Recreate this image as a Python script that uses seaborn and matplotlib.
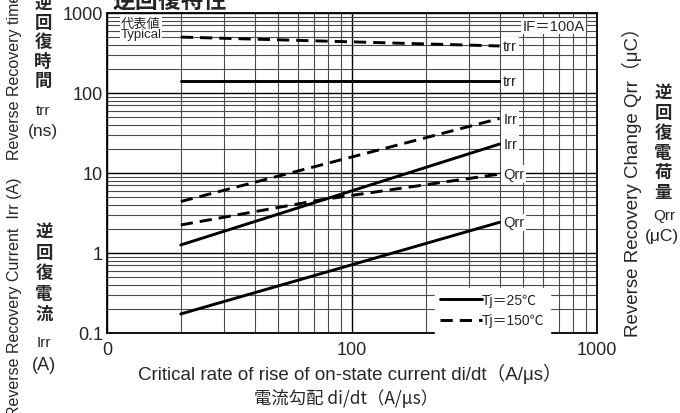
import numpy as np
import pandas as pd
import matplotlib
matplotlib.use('Agg')
import matplotlib.pyplot as plt
from matplotlib.lines import Line2D
from matplotlib.ticker import FixedLocator, FixedFormatter, LogLocator, NullFormatter
import seaborn as sns

# values (di/dt in A/us)
di_two = [20, 400]
di_three = [20, 74, 400]
trr_25 = [141, 141]        # ns
trr_150 = [500, 387]       # ns
irr_25 = [1.26, 23.0]      # A
irr_150 = [4.4, 48.0]      # A
qrr_25 = [0.173, 2.42]     # uC
qrr_150 = [2.24, 4.6, 9.7] # uC

x_ticks = [10, 100, 1000]
x_labels = ['0', '100', '1000']
y_ticks = [0.1, 1, 10, 100, 1000]
y_labels = ['0.1', '1', '10', '100', '1000']

curves = [
    ('trr', '25', di_two, trr_25),
    ('trr', '150', di_two, trr_150),
    ('Irr', '25', di_two, irr_25),
    ('Irr', '150', di_two, irr_150),
    ('Qrr', '25', di_two, qrr_25),
    ('Qrr', '150', di_three, qrr_150),
]

sns.set_style('white')
plt.rcParams['font.family'] = ['Liberation Sans', 'Noto Sans CJK JP', 'DejaVu Sans']
JP = ['Noto Sans CJK JP', 'DejaVu Sans']
NARROW = ['Liberation Sans Narrow', 'Liberation Sans', 'Noto Sans CJK JP']
DASH = (0, (4.2, 2.4))

fig = plt.figure(figsize=(6.8, 4.14), dpi=100)
ax = fig.add_axes([107 / 680, 1 - 334 / 414, 490 / 680, 320 / 414])

for name, tj, xs, ys in curves:
    df = pd.DataFrame({'di': xs, 'v': ys})
    ls = '-' if tj == '25' else DASH
    sns.lineplot(data=df, x='di', y='v', ax=ax, color='black', lw=2.1,
                 linestyle=ls, zorder=4)
    ax.text(xs[-1] * 1.035, ys[-1], name, fontsize=10.5, ha='left', va='center',
            family=NARROW, zorder=5,
            bbox=dict(facecolor='white', edgecolor='none', pad=1.3))

ax.set_xscale('log')
ax.set_yscale('log')
ax.set_xlim(10, 1000)
ax.set_ylim(0.1, 1000)
ax.xaxis.set_major_locator(FixedLocator(x_ticks))
ax.xaxis.set_major_formatter(FixedFormatter(x_labels))
ax.yaxis.set_major_locator(FixedLocator(y_ticks))
ax.yaxis.set_major_formatter(FixedFormatter(y_labels))
ax.xaxis.set_minor_locator(LogLocator(base=10, subs=np.arange(2, 10)))
ax.yaxis.set_minor_locator(LogLocator(base=10, subs=np.arange(2, 10)))
ax.xaxis.set_minor_formatter(NullFormatter())
ax.yaxis.set_minor_formatter(NullFormatter())
ax.grid(which='major', color='black', lw=1.0, zorder=1)
ax.grid(which='minor', color='#4a4a4a', lw=0.8, zorder=1)
ax.set_axisbelow(True)
ax.tick_params(which='both', length=0, labelsize=13, pad=3)
ax.tick_params(axis='x', pad=6)
for lab in ax.get_xticklabels() + ax.get_yticklabels():
    lab.set_family(NARROW)
ax.set_xlabel('')
ax.set_ylabel('')
for s in ax.spines.values():
    s.set_color('black')
    s.set_linewidth(1.3)

# "typical" tag, top left
ax.text((141 - 107) / 490, 1 - 15.5 / 320, '代表値\nTypical', transform=ax.transAxes,
        fontsize=9.5, ha='center', va='center', linespacing=0.8, zorder=5,
        bbox=dict(facecolor='white', edgecolor='none', pad=0.6))
ax.text(0.975, 1 - 13 / 320, 'IF＝100A', transform=ax.transAxes, fontsize=10.5,
        ha='right', va='center', zorder=5,
        bbox=dict(facecolor='white', edgecolor='none', pad=1.0))

handles = [Line2D([], [], color='black', lw=2.1, linestyle='-'),
           Line2D([], [], color='black', lw=2.1, linestyle=DASH)]
leg = ax.legend(handles, ['Tj＝25℃', 'Tj＝150℃'], loc='lower right',
                bbox_to_anchor=(0.904, 0.0), fontsize=10, handlelength=3.0,
                handletextpad=0.0, frameon=True, framealpha=1.0,
                borderpad=0.4, labelspacing=0.45, fancybox=False,
                borderaxespad=0.0)
leg.get_frame().set_edgecolor('white')
leg.set_zorder(6)

# title (clipped at top in the reference)
fig.text(170 / 680, 1 - 8 / 414, '逆回復特性', fontsize=16.5, ha='center',
         va='baseline', family=JP, weight='bold')

# x axis labels
fig.text(350 / 680, 1 - 374 / 414, 'Critical rate of rise of on-state current di/dt（A/μs）',
         fontsize=13.5, ha='center', va='center', family=['Liberation Sans', 'Noto Sans CJK JP'])
fig.text(346 / 680, 1 - 399 / 414, '電流勾配 di/dt（A/μs）', fontsize=12.5,
         ha='center', va='center', family=JP)


def stack(x, y_first, step, chars, size=12.5):
    for i, ch in enumerate(chars):
        fig.text(x / 680, 1 - (y_first + i * step) / 414, ch, fontsize=size,
                 ha='center', va='center', family=JP, weight='bold')


# left side labels
fig.text(15 / 680, 1 - 160 / 414, 'Reverse Recovery time  trr (ns)', rotation=90,
         fontsize=11.5, ha='center', va='bottom', family=NARROW)
fig.text(15 / 680, 1 - 417 / 414, 'Reverse Recovery Current  Irr (A)', rotation=90,
         fontsize=11.5, ha='center', va='bottom', family=NARROW)
stack(43, 4, 19.2, '逆回復時間')
fig.text(43 / 680, 1 - 111 / 414, 'trr', fontsize=11, ha='center', va='center', family=NARROW)
fig.text(43 / 680, 1 - 132 / 414, '(ns)', fontsize=12.5, ha='center', va='center', family=NARROW)
stack(44, 232, 20.7, '逆回復電流')
fig.text(44 / 680, 1 - 343 / 414, 'Irr', fontsize=11, ha='center', va='center', family=NARROW)
fig.text(44 / 680, 1 - 366 / 414, '(A)', fontsize=13, ha='center', va='center')

# right side labels
fig.text(632 / 680, 1 - 178 / 414, 'Reverse Recovery Change Qrr（μC）', rotation=90,
         fontsize=13.5, ha='center', va='center', family=['Liberation Sans', 'Noto Sans CJK JP'])
stack(663, 93, 20, '逆回復電荷量')
fig.text(664 / 680, 1 - 216 / 414, 'Qrr', fontsize=11, ha='center', va='center', family=NARROW)
fig.text(662 / 680, 1 - 237 / 414, '(μC)', fontsize=12.5, ha='center', va='center', family=NARROW)

fig.savefig('out.png', dpi=100)
